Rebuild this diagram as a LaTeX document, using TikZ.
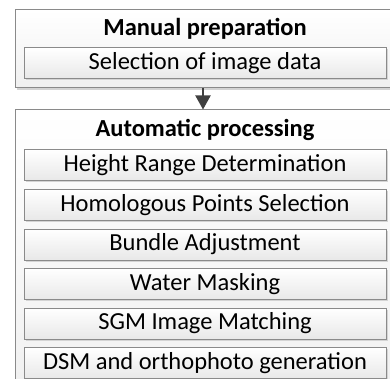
\documentclass[tikz,border=0pt]{standalone}
\usepackage{fontspec}
\setmainfont{Carlito}
\usepackage{tikz}
\usetikzlibrary{positioning}
\usetikzlibrary{shadows}
\usetikzlibrary{arrows.meta}
\definecolor{boxline}{HTML}{8A8A8A}
\definecolor{outerlow}{HTML}{F0F0F0}
\definecolor{innerlow}{HTML}{E8E8E8}
\definecolor{shade}{HTML}{D4D4D4}
\definecolor{arrowgray}{HTML}{404040}
\tikzset{stagebox/.style={draw=boxline, line width=1pt, top color=white, bottom color=outerlow, minimum width=380pt, inner sep=0pt, drop shadow={shadow xshift=1.5pt, shadow yshift=-2pt, fill=shade, opacity=1}}}
\tikzset{taskbox/.style={draw=boxline, line width=1pt, top color=white, bottom color=innerlow, minimum width=362pt, minimum height=31pt, inner sep=0pt, font=\fontsize{24.5}{28}\selectfont, drop shadow={shadow xshift=1.5pt, shadow yshift=-1.5pt, fill=shade, opacity=1}}}
\tikzset{stagetitle/.style={inner sep=0pt, font=\bfseries\fontsize{24.5}{28}\selectfont}}
\tikzset{flow/.style={draw=arrowgray, line width=2pt, -{Triangle[width=15pt,length=14pt]}}}

\begin{document}
\begin{tikzpicture}[x=1pt,y=-1pt]
\useasboundingbox (0,0) rectangle (390,379);
\clip (0,0) rectangle (390,379);
% stages
\node [stagebox, minimum height=78pt] (manual) at (205,49) {};
\node [stagebox, minimum height=290pt] (auto) at (205,255) {};
\node [stagetitle] (mtitle) at (205,29) {Manual preparation};
\node [stagetitle] (atitle) at (205,130) {Automatic processing};
% manual step
\node [taskbox] (sel) at (205,63.5) {Selection of image data};
% automatic steps
\node [taskbox] (hrd) at (205,165.5) {Height Range Determination};
\node [taskbox, below=7.5pt of hrd] (hps) {Homologous Points Selection};
\node [taskbox, below=7.5pt of hps] (ba) {Bundle Adjustment};
\node [taskbox, below=7.5pt of ba] (wm) {Water Masking};
\node [taskbox, below=7.5pt of wm] (sgm) {SGM Image Matching};
\node [taskbox, below=7.5pt of sgm] (dsm) {DSM and orthophoto generation};
\draw [flow] ([xshift=-2pt]manual.south) -- ([xshift=-2pt]auto.north);
\end{tikzpicture}
\end{document}
